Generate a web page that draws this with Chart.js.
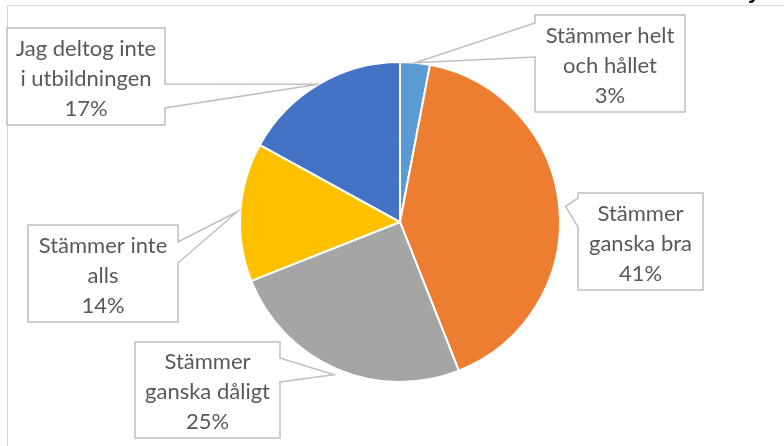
<!DOCTYPE html>
<html>
<head>
<meta charset="utf-8">
<script src="https://cdn.jsdelivr.net/npm/chart.js@4/dist/chart.umd.min.js"></script>
<style>
  html, body { margin: 0; padding: 0; background: #fff; }
  #wrap { position: relative; width: 784px; height: 446px; }
</style>
</head>
<body>
<div id="wrap"><canvas id="myChart" width="784" height="446"></canvas></div>
<script>
// data
var labels = [
    ['Stämmer helt', 'och hållet'],
    ['Stämmer', 'ganska bra'],
    ['Stämmer', 'ganska dåligt'],
    ['Stämmer inte', 'alls'],
    ['Jag deltog inte', 'i utbildningen']
];
var values = [3, 41, 25, 14, 17];
var colors = ['#5B9BD5', '#ED7D31', '#A5A5A5', '#FFC000', '#4472C4'];

// callout boxes (x1, y1, x2, y2), side of wedge, wedge base y range
var boxes = [
    {x1: 535, y1: 15, x2: 685, y2: 112, side: 'left', b1: 23, b2: 57, k: 1.0},
    {x1: 578, y1: 193, x2: 703, y2: 290, side: 'left', b1: 198, b2: 227, k: 1.04},
    {x1: 135, y1: 342, x2: 280, y2: 438, side: 'right', b1: 358, b2: 382, k: 1.04},
    {x1: 28, y1: 225, x2: 178, y2: 322, side: 'right', b1: 242, b2: 263, k: 1.02},
    {x1: 7, y1: 28, x2: 165, y2: 125, side: 'right', b1: 84, b2: 108, k: 1.0}
];

var frame = {
    id: 'frame',
    beforeDraw: function(chart){
        var ctx = chart.ctx;
        ctx.save();
        ctx.strokeStyle = '#d9d9d9';
        ctx.lineWidth = 1;
        ctx.beginPath();
        ctx.moveTo(7.5, 446);
        ctx.lineTo(7.5, 5.5);
        ctx.lineTo(784, 5.5);
        ctx.stroke();
        // cut-off title
        ctx.fillStyle = '#000';
        ctx.font = 'bold 22px "Liberation Sans", sans-serif';
        ctx.textAlign = 'left';
        ctx.textBaseline = 'alphabetic';
        ctx.fillText('y', 748, -2);
        ctx.restore();
    }
};

var callouts = {
    id: 'callouts',
    afterDatasetsDraw: function(chart){
        var ctx = chart.ctx;
        var arcs = chart.getDatasetMeta(0).data;
        var total = values.reduce(function(a, b){ return a + b; }, 0);
        ctx.save();
        for(var i = 0; i < arcs.length; i++){
            var a = arcs[i];
            var mid = (a.startAngle + a.endAngle) / 2;
            var r = a.outerRadius * boxes[i].k;
            var tx = a.x + Math.cos(mid) * r;
            var ty = a.y + Math.sin(mid) * r;
            var b = boxes[i];

            ctx.beginPath();
            ctx.moveTo(b.x1, b.y1);
            ctx.lineTo(b.x2, b.y1);
            if(b.side == 'right'){
                ctx.lineTo(b.x2, b.b1);
                ctx.lineTo(tx, ty);
                ctx.lineTo(b.x2, b.b2);
            }
            ctx.lineTo(b.x2, b.y2);
            ctx.lineTo(b.x1, b.y2);
            if(b.side == 'left'){
                ctx.lineTo(b.x1, b.b2);
                ctx.lineTo(tx, ty);
                ctx.lineTo(b.x1, b.b1);
            }
            ctx.closePath();
            ctx.fillStyle = '#fff';
            ctx.fill();
            ctx.strokeStyle = '#bfbfbf';
            ctx.lineWidth = 1.5;
            ctx.stroke();

            var lines = labels[i].concat([Math.round(values[i] / total * 100) + '%']);
            ctx.fillStyle = '#595959';
            ctx.font = '22px Lato, sans-serif';
            ctx.textAlign = 'center';
            ctx.textBaseline = 'middle';
            var cx = (b.x1 + b.x2) / 2;
            var cy = (b.y1 + b.y2) / 2 + 2;
            var lh = 30;
            for(var j = 0; j < lines.length; j++){
                ctx.fillText(lines[j], cx, cy + (j - 1) * lh);
            }
        }
        ctx.restore();
    }
};

var ctx = document.getElementById('myChart');
var myChart = new Chart(ctx, {
    type: 'pie',
    data: {
        labels: labels,
        datasets: [{
            data: values,
            backgroundColor: colors,
            borderColor: '#ffffff',
            borderWidth: 2
        }]
    },
    options: {
        responsive: false,
        animation: false,
        layout: { padding: { left: 239, right: 223, top: 60, bottom: 62 } },
        plugins: {
            legend: { display: false },
            tooltip: { enabled: false }
        }
    },
    plugins: [frame, callouts]
});
</script>
</body>
</html>
